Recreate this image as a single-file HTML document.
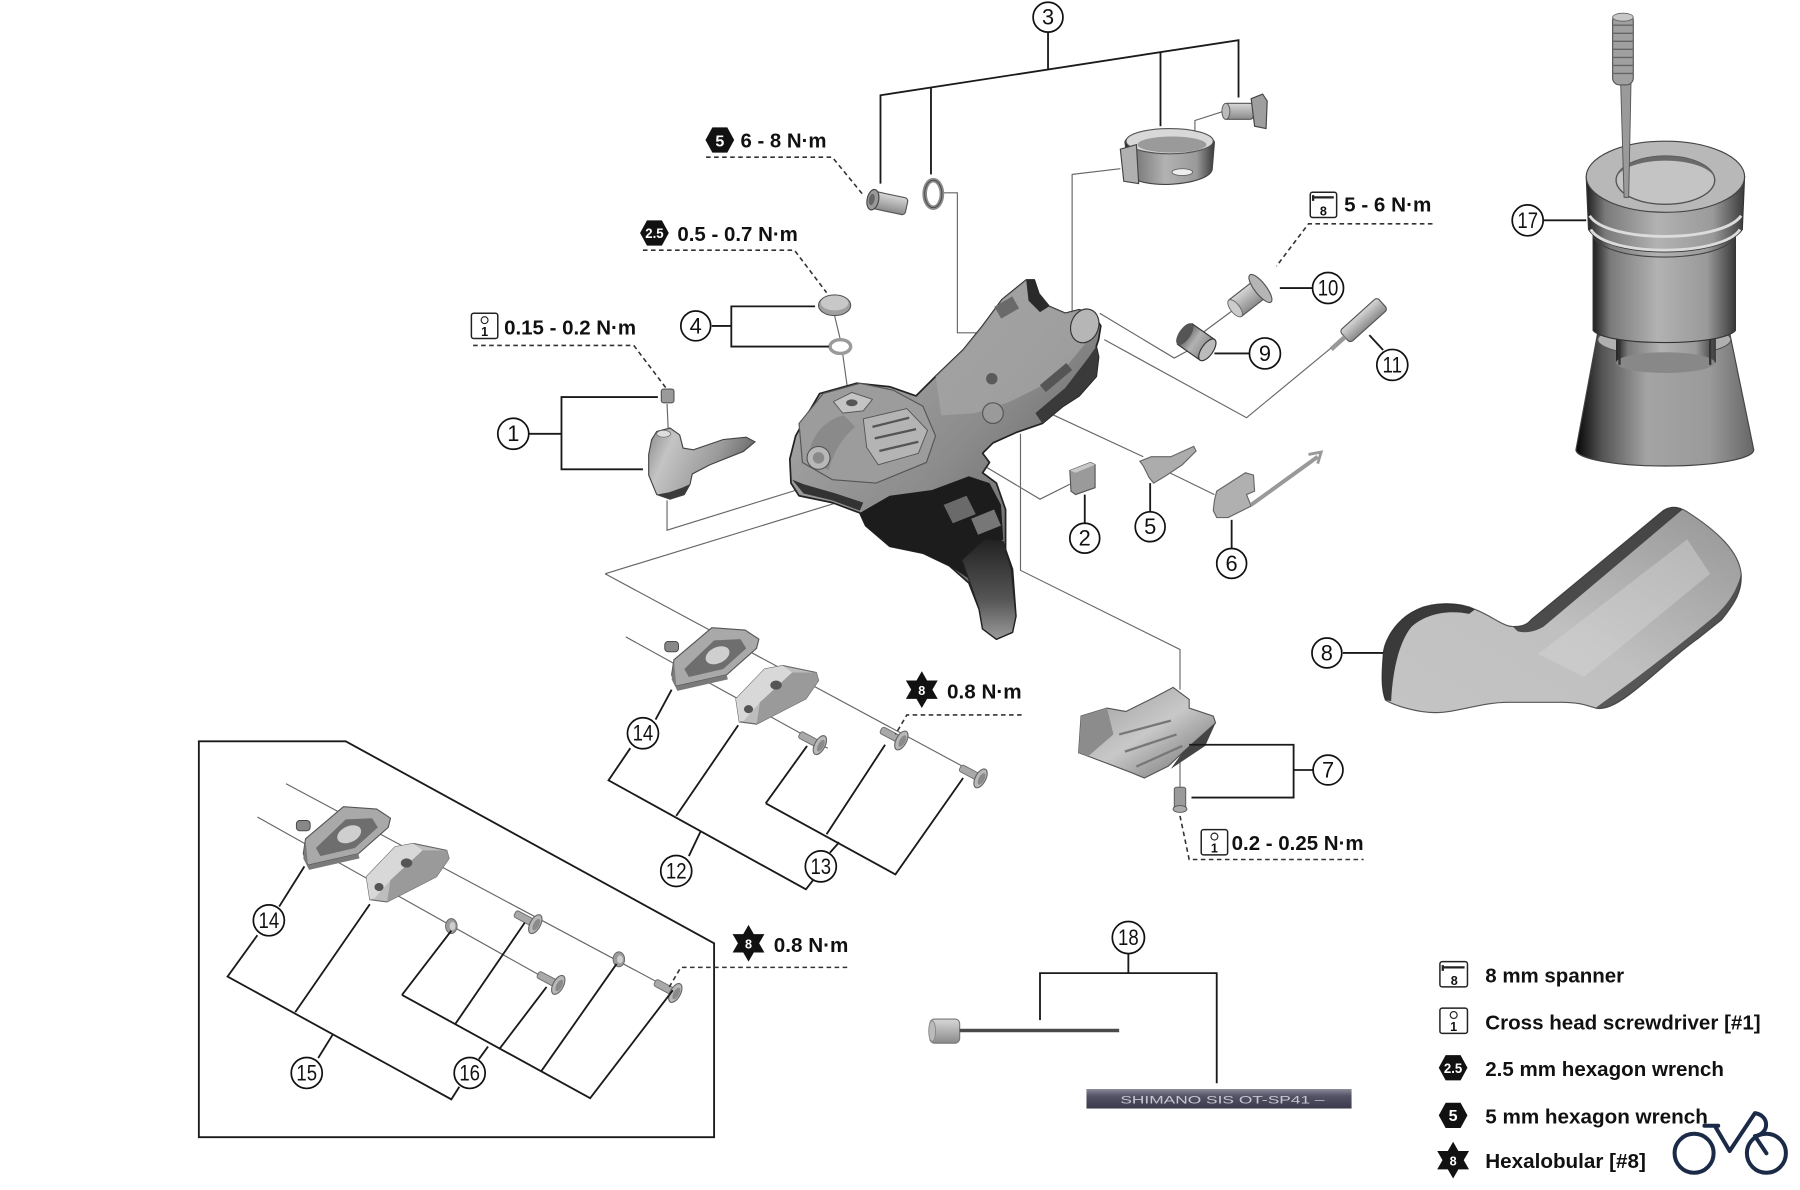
<!DOCTYPE html>
<html><head><meta charset="utf-8"><style>
html,body{margin:0;padding:0;background:#fff;width:1800px;height:1190px;overflow:hidden}
svg{display:block}
text{font-family:"Liberation Sans",Arial,sans-serif}
.co{fill:#fff;stroke:#111;stroke-width:1.5}
.cn{font-size:19px;text-anchor:middle;fill:#111}
.br{fill:none;stroke:#1a1a1a;stroke-width:1.6}
.ld{fill:none;stroke:#666;stroke-width:1}
.ds{fill:none;stroke:#333;stroke-width:1.4;stroke-dasharray:4 3}
.tq{font-size:18px;font-weight:bold;fill:#111}
.lg{font-size:18px;font-weight:bold;fill:#111}
</style></head><body>
<svg width="1800" height="1190" viewBox="0 0 1568 1037" xmlns="http://www.w3.org/2000/svg">
<defs>
<linearGradient id="gCyl" x1="0" y1="0" x2="1" y2="0">
<stop offset="0" stop-color="#1e1e1e"/><stop offset="0.12" stop-color="#7a7a7a"/><stop offset="0.45" stop-color="#b2b2b2"/><stop offset="0.8" stop-color="#9a9a9a"/><stop offset="1" stop-color="#3a3a3a"/>
</linearGradient>
<linearGradient id="gCone" x1="0" y1="0" x2="1" y2="0">
<stop offset="0" stop-color="#050505"/><stop offset="0.15" stop-color="#555"/><stop offset="0.4" stop-color="#a4a4a4"/><stop offset="0.75" stop-color="#9a9a9a"/><stop offset="1" stop-color="#666"/>
</linearGradient>
<linearGradient id="gBody" x1="0" y1="0" x2="1" y2="1">
<stop offset="0" stop-color="#b0b0b0"/><stop offset="0.5" stop-color="#8c8c8c"/><stop offset="1" stop-color="#4a4a4a"/>
</linearGradient>
<linearGradient id="gLever" x1="0" y1="0" x2="0" y2="1">
<stop offset="0" stop-color="#222"/><stop offset="0.6" stop-color="#555"/><stop offset="1" stop-color="#9a9a9a"/>
</linearGradient>
<linearGradient id="gP1" x1="0" y1="0" x2="1" y2="0.3">
<stop offset="0" stop-color="#8a8a8a"/><stop offset="0.25" stop-color="#c4c4c4"/><stop offset="0.7" stop-color="#9a9a9a"/><stop offset="1" stop-color="#6a6a6a"/>
</linearGradient>
<linearGradient id="g8" x1="0" y1="1" x2="1" y2="0">
<stop offset="0" stop-color="#c4c4c4"/><stop offset="0.45" stop-color="#c0c0c0"/><stop offset="0.7" stop-color="#adadad"/><stop offset="1" stop-color="#959595"/>
</linearGradient>
<linearGradient id="g7" x1="0" y1="0" x2="1" y2="1">
<stop offset="0" stop-color="#9a9a9a"/><stop offset="0.5" stop-color="#c8c8c8"/><stop offset="1" stop-color="#6a6a6a"/>
</linearGradient>
<linearGradient id="gHouse" x1="0" y1="0" x2="0" y2="1">
<stop offset="0" stop-color="#8a8a9a"/><stop offset="0.35" stop-color="#545466"/><stop offset="1" stop-color="#3a3a4c"/>
</linearGradient>
<linearGradient id="gMet" x1="0" y1="0" x2="0" y2="1">
<stop offset="0" stop-color="#d8d8d8"/><stop offset="1" stop-color="#8a8a8a"/>
</linearGradient>
<path id="star" d="M0,-16 L4.62,-8 L13.86,-8 L9.24,0 L13.86,8 L4.62,8 L0,16 L-4.62,8 L-13.86,8 L-9.24,0 L-13.86,-8 L-4.62,-8 Z" fill="#111"/>
<path id="hex" d="M-12.5,0 L-6.5,-11 L6.5,-11 L12.5,0 L6.5,11 L-6.5,11 Z" fill="#111"/>
<g id="bolt">
<rect x="-13" y="-3.2" width="19" height="6.4" rx="2" fill="#a9a9a9" stroke="#6a6a6a" stroke-width="0.8"/>
<ellipse cx="7" cy="0" rx="4.5" ry="9" fill="#b8b8b8" stroke="#666" stroke-width="1"/>
<ellipse cx="8" cy="0" rx="2.5" ry="5.5" fill="#8a8a8a"/>
</g>
<g id="washer">
<ellipse cx="0" cy="0" rx="5" ry="6.5" fill="#9c9c9c" stroke="#666" stroke-width="0.8"/>
<ellipse cx="1" cy="0" rx="2.5" ry="3.5" fill="#cfcfcf"/>
</g>
<g id="p14">
<path d="M587,575 L620,547 L649,549 L661,557 L659,565 L633,588 L589,598 L585,588 Z" fill="#a9a9a9" stroke="#555" stroke-width="1"/>
<path d="M596,583 L622,558 L645,557 L650,565 L630,583 L600,590 Z" fill="#6e6e6e"/>
<ellipse cx="625" cy="571" rx="11" ry="7" fill="#cfcfcf" transform="rotate(-25 625 571)"/>
<rect x="579" y="559" width="12" height="9" rx="3" fill="#888" stroke="#444" stroke-width="0.8"/>
<path d="M587,575 L589,598 L633,588 L634,592 L590,602 L585,592 Z" fill="#7a7a7a"/>
</g>
<g id="p15">
<path d="M641,609 L666,583 L682,580 L711,586 L713,593 L702,609 L659,631 L644,629 Z" fill="#bdbdbd" stroke="#666" stroke-width="1"/>
<path d="M641,609 L666,583 L682,580 L690,586 L662,612 L648,628 L644,629 Z" fill="#d8d8d8"/>
<path d="M662,612 L690,586 L711,586 L713,593 L702,609 L659,631 Z" fill="#9a9a9a"/>
<ellipse cx="676" cy="597" rx="5" ry="4" fill="#555"/>
<ellipse cx="652" cy="618" rx="4" ry="3.5" fill="#555"/>
</g>
</defs>

<rect width="1568" height="1037" fill="#fff"/>

<!-- ===== leader lines (thin) ===== -->
<g class="ld">
<path d="M581,352 L582,374"/>
<path d="M581,436 L581,462 L694,427"/>
<path d="M527,500 L853,400"/>
<path d="M527,500 L852,675"/>
<path d="M545,555 L721,652"/>
<path d="M727,275 L732,296 M734,308 L740,351"/>
<path d="M822,168 L834,168 L834,290 L862,290"/>
<path d="M976,147 L934,152 L934,272 L928,276"/>
<path d="M1066,97 L1041,105 L1041,132"/>
<path d="M958,273 L1023,312 L1036,305 M1049,289 L1080,266"/>
<path d="M962,296 L1086,364 L1160,303"/>
<path d="M899,353 L996,398 M1019,412 L1058,431"/>
<path d="M859,407 L906,435 L932,422"/>
<path d="M889,378 L889,497 L1028,566 L1028,601 M1028,655 L1028,688"/>
<path d="M769,351 L853,392"/>
<path d="M249,683 L586,863"/>
<path d="M224,712 L481,856"/>
</g>

<!-- ===== Part 3 group ===== -->
<g>
<g transform="rotate(12 772 177)">
<rect x="760" y="169" width="30" height="15" rx="3" fill="url(#gMet)" stroke="#555" stroke-width="1"/>
<ellipse cx="760" cy="176.5" rx="5" ry="9" fill="#9a9a9a" stroke="#444" stroke-width="1"/>
<ellipse cx="759" cy="176.5" rx="2.5" ry="5" fill="#666"/>
</g>
<ellipse cx="813" cy="169" rx="7.5" ry="12" fill="none" stroke="#8a8a8a" stroke-width="4"/>
<ellipse cx="813" cy="169" rx="7.5" ry="12" fill="none" stroke="#444" stroke-width="0.8"/>
<path d="M980,124 C980,112 1056,112 1058,124 L1056,148 C1052,162 992,166 984,152 Z" fill="url(#gCyl)" stroke="#444" stroke-width="1"/>
<ellipse cx="1019" cy="123" rx="38" ry="11" fill="#d8d8d8" stroke="#555" stroke-width="1"/>
<ellipse cx="1021" cy="126" rx="30" ry="7" fill="#9a9a9a"/>
<path d="M976,130 L990,126 L992,160 L979,158 Z" fill="#b0b0b0" stroke="#444" stroke-width="1"/>
<ellipse cx="1030" cy="150" rx="9" ry="3" fill="#eee" stroke="#666" stroke-width="0.8"/>
<rect x="1066" y="90" width="26" height="14" rx="3" fill="url(#gMet)" stroke="#555" stroke-width="1"/>
<path d="M1090,86 L1100,82 L1104,88 L1103,112 L1093,110 Z" fill="#9e9e9e" stroke="#444" stroke-width="1"/>
<ellipse cx="1068" cy="97" rx="3.5" ry="7" fill="#bbb" stroke="#555" stroke-width="0.8"/>
</g>

<!-- ===== main body ===== -->
<g stroke-linejoin="round">
<path d="M689,421 L688,400 L693,380 L704,360 L714,343 L746,334 L775,337 L798,345 L815,328 L839,305 L856,284 L873,261 L894,244 L901,244 L905,256 L914,267 L928,273 L940,270 L952,273 L959,284 L957,296 L955,302 L957,311 L955,328 L940,345 L926,354 L908,369 L885,377 L865,386 L856,395 L862,403 L856,412 L868,421 L876,444 L876,479 L882,496 L885,537 L882,551 L868,557 L856,548 L853,531 L844,508 L827,493 L804,482 L775,476 L754,458 L749,447 L725,438 L696,432 Z" fill="url(#gBody)" stroke="#222" stroke-width="1.5"/>
<!-- head top face -->
<path d="M696,369 L717,343 L749,334 L778,340 L804,354 L815,380 L807,403 L763,421 L725,418 L699,403 Z" fill="#9c9c9c" stroke="#555" stroke-width="1"/>
<!-- raised square boss -->
<path d="M726,350 L742,342 L760,348 L752,358 L734,360 Z" fill="#c4c4c4" stroke="#555" stroke-width="0.8"/>
<ellipse cx="742" cy="351" rx="5" ry="3" fill="#555"/>
<!-- slot block -->
<path d="M752,365 L790,356 L808,375 L800,395 L765,405 L755,390 Z" fill="#b4b4b4" stroke="#555" stroke-width="0.8"/>
<path d="M760,372 L792,364 M762,382 L798,374 M766,393 L800,385" stroke="#555" stroke-width="2"/>
<path d="M705,398 C705,380 720,365 735,362 L745,372 C735,380 725,395 722,410 Z" fill="#8a8a8a"/>
<circle cx="713" cy="399" r="10" fill="#b8b8b8" stroke="#555" stroke-width="1"/>
<circle cx="713" cy="399" r="5" fill="#8a8a8a"/>
<!-- tube lighter -->
<path d="M815,328 L839,305 L856,284 L873,261 L894,244 L905,256 L914,267 L928,273 L940,270 L952,273 L945,300 L920,330 L880,350 L850,360 L820,362 Z" fill="#a6a6a6" opacity="0.75"/>
<path d="M894,244 L901,244 L905,256 L914,267 L906,272 L896,262 Z" fill="#2a2a2a"/>
<ellipse cx="945" cy="284" rx="12" ry="15" fill="#b6b6b6" stroke="#333" stroke-width="1" transform="rotate(20 945 284)"/>
<path d="M955,302 L957,311 L955,328 L940,345 L926,354 L908,369 L902,360 L928,338 L948,312 Z" fill="#3a3a3a"/>
<rect x="868" y="262" width="18" height="12" fill="#6a6a6a" transform="rotate(-30 877 268)"/>
<circle cx="864" cy="330" r="5" fill="#5a5a5a"/>
<circle cx="865" cy="360" r="9" fill="#9a9a9a" stroke="#555" stroke-width="1"/>
<rect x="905" y="325" width="30" height="8" fill="#555" transform="rotate(-40 920 329)"/>
<!-- dark lower body -->
<path d="M749,447 L775,432 L812,427 L844,415 L862,421 L872,440 L874,470 L860,480 L845,505 L827,493 L804,482 L775,476 L754,458 Z" fill="#1c1c1c"/>
<path d="M822,440 L842,432 L850,448 L830,456 Z" fill="#6a6a6a"/>
<!-- lever blade -->
<path d="M838,488 L858,470 L874,472 L881,496 L885,537 L882,551 L868,557 L856,548 L853,531 L845,508 Z" fill="url(#gLever)" stroke="#222" stroke-width="1"/>
<path d="M846,452 L866,444 L872,458 L852,466 Z" fill="#777"/>
<path d="M690,418 L700,430 L725,436 L749,445 L752,438 L728,430 L700,422 Z" fill="#333"/>
</g>

<!-- ===== Part 1 ===== -->
<path d="M567.6,383 L572,376 L583.6,373 L592,379 L595,390.5 L604,392 L630,383 L650,381 L657.6,385 L647.5,393.4 L618.4,405 L603,413 L601,422 L596,431 L583.6,435 L572,431 L565,414 L565,396 Z" fill="url(#gP1)" stroke="#444" stroke-width="1"/>
<path d="M572,431 L583.6,435 L596,431 L601,422 L594,425 L583,429 Z" fill="#3a3a3a"/>
<ellipse cx="578" cy="378" rx="6" ry="3" fill="#ddd" stroke="#666" stroke-width="0.6"/>
<rect x="576" y="339" width="11" height="12" rx="2" fill="#9a9a9a" stroke="#555" stroke-width="1"/>

<!-- ===== Part 4 ===== -->
<ellipse cx="727" cy="266" rx="14" ry="9" fill="#a0a0a0" stroke="#555" stroke-width="1"/>
<ellipse cx="727" cy="264" rx="12" ry="6.5" fill="#c8c8c8"/>
<ellipse cx="732" cy="302" rx="9" ry="6" fill="none" stroke="#9a9a9a" stroke-width="3"/>

<!-- ===== Parts 2,5,6 ===== -->
<path d="M932,410 L950,403 L954,405 L954,425 L937,431 L933,428 Z" fill="#9a9a9a" stroke="#555" stroke-width="1"/>
<path d="M932,410 L950,403 L954,405 L937,412 Z" fill="#c8c8c8"/>
<path d="M993,402 L1003,398 L1020,398 L1040,389 L1042,393 L1030,405 L1015,415 L1005,421 L1001,416 L996,406 Z" fill="#acacac" stroke="#666" stroke-width="1"/>
<path d="M1058,436 L1060,428 L1085,412 L1092,414 L1093,428 L1086,431 L1090,441 L1070,451 L1060,451 L1057,445 Z" fill="#b0b0b0" stroke="#666" stroke-width="1"/>
<path d="M1090,440 L1148,398" stroke="#999" stroke-width="3.5"/>
<path d="M1140,396 L1151,394 L1148,404" fill="none" stroke="#999" stroke-width="2.5"/>

<!-- ===== Parts 9, 10, 11 ===== -->
<g transform="rotate(35 1042 298)">
<rect x="1030" y="287" width="24" height="22" fill="url(#gCyl)" stroke="#333" stroke-width="1"/>
<ellipse cx="1030" cy="298" rx="5" ry="11" fill="#555"/>
<ellipse cx="1054" cy="298" rx="5" ry="11" fill="#bbb" stroke="#333" stroke-width="1"/>
</g>
<g transform="rotate(-38 1088 258)">
<rect x="1072" y="250" width="26" height="18" fill="url(#gMet)" stroke="#555" stroke-width="1"/>
<ellipse cx="1100" cy="259" rx="5" ry="15" fill="#b5b5b5" stroke="#555" stroke-width="1"/>
<ellipse cx="1072" cy="259" rx="4" ry="9" fill="#ccc" stroke="#666" stroke-width="0.8"/>
</g>
<g transform="rotate(-42 1188 279)">
<rect x="1166" y="272" width="44" height="14" rx="3" fill="url(#gMet)" stroke="#555" stroke-width="1"/>
<rect x="1150" y="277" width="16" height="4" fill="#999"/>
</g>

<!-- ===== Part 7 ===== -->
<path d="M941.8,624 L964.4,617 L980.8,620 L1005,608 L1022,599 L1036,609.5 L1036,617 L1057,624 L1059,630 L1030,656 L1018,667.5 L997,678 L985,673 L948,659 L939.7,656 Z" fill="url(#g7)" stroke="#555" stroke-width="1"/>
<path d="M941.8,624 L964.4,617 L970,640 L948,659 L939.7,656 Z" fill="#8c8c8c"/>
<path d="M975,640 L1020,628 M980,655 L1025,640 M990,668 L1030,650" stroke="#777" stroke-width="2"/>
<path d="M1030,656 L1059,630 L1050,650 L1020,670 Z" fill="#444"/>
<rect x="1023" y="686" width="10" height="19" rx="2" fill="#9a9a9a" stroke="#555" stroke-width="0.8"/>
<ellipse cx="1028" cy="705" rx="6" ry="3" fill="#aaa" stroke="#555" stroke-width="0.8"/>

<!-- ===== Part 8 ===== -->
<path d="M1205,572 C1205,560 1215,540 1235,531 C1248,525 1270,524 1285,531 C1300,537 1310,546 1318,546 C1325,546 1330,545 1334,540 L1449,445 C1455,441 1462,441 1470,446 C1495,462 1515,480 1517,500 C1518,515 1512,525 1500,540 L1480,556 C1460,570 1440,590 1420,605 C1408,614 1398,619 1390,617 C1380,614 1375,612 1360,612 L1314,612 C1290,612 1270,621 1250,621 C1235,621 1215,615 1207,610 C1203,600 1204,585 1205,572 Z" fill="url(#g8)" stroke="#555" stroke-width="1"/>
<path d="M1318,546 C1325,546 1330,545 1334,540 L1449,445 C1455,441 1462,441 1466,444 L1345,546 C1337,551 1328,552 1322,550 Z" fill="#2e2e2e" opacity="0.8"/>
<path d="M1517,500 C1518,515 1512,525 1500,540 L1480,556 C1460,570 1440,590 1420,605 C1408,614 1398,619 1390,617 L1412,601 C1440,580 1470,557 1495,536 C1508,524 1514,512 1517,500 Z" fill="#333" opacity="0.75"/>
<path d="M1207,610 C1203,600 1204,585 1205,572 C1205,560 1215,540 1235,531 C1248,525 1270,524 1285,531 L1280,535 C1262,531 1242,535 1230,546 C1218,560 1213,588 1212,611 Z" fill="#222" opacity="0.85"/>
<path d="M1340,570 L1470,470 L1490,500 L1380,590 Z" fill="#d4d4d4" opacity="0.45"/>

<!-- ===== Part 17 tool ===== -->
<g>
<path d="M1392,290 L1507,290 L1528,392 A77,14 0 0 1 1373,392 Z" fill="url(#gCone)" stroke="#444" stroke-width="1"/>
<ellipse cx="1450" cy="296" rx="58" ry="14" fill="#b0b0b0" stroke="#555" stroke-width="1"/>
<rect x="1408" y="280" width="87" height="36" fill="url(#gCyl)"/>
<ellipse cx="1451" cy="316" rx="43" ry="9" fill="#888"/>
<path d="M1411,283 L1411,318 M1490,283 L1490,318" stroke="#333" stroke-width="2"/>
<path d="M1388,196 L1512,196 L1512,288 C1500,302 1400,302 1388,288 Z" fill="url(#gCyl)" stroke="#333" stroke-width="1"/>
<path d="M1382,154 L1520,154 L1518,200 C1500,226 1400,226 1384,200 Z" fill="url(#gCyl)" stroke="#333" stroke-width="1"/>
<path d="M1385,188 C1400,212 1500,212 1517,188" fill="none" stroke="#dcdcdc" stroke-width="2.5"/>
<path d="M1386,200 C1400,224 1500,224 1516,200" fill="none" stroke="#dcdcdc" stroke-width="2.5"/>
<path d="M1388,206 C1400,230 1500,230 1512,206" fill="none" stroke="#444" stroke-width="1"/>
<ellipse cx="1451" cy="154" rx="69" ry="31" fill="#b8b8b8" stroke="#444" stroke-width="1"/>
<ellipse cx="1451" cy="157" rx="43" ry="21" fill="#c4c4c4" stroke="#555" stroke-width="1.2"/>
<path d="M1408,157 A43,21 0 0 1 1494,157 A43,17 0 0 0 1408,157 Z" fill="#6a6a6a"/>
<path d="M1412,73 L1421,73 L1419,172 L1415,172 Z" fill="#9a9a9a" stroke="#555" stroke-width="0.8"/>
<rect x="1405" y="12" width="18" height="62" rx="6" fill="#a0a0a0" stroke="#555" stroke-width="1"/>
<path d="M1405,22 H1423 M1405,29 H1423 M1405,36 H1423 M1405,43 H1423 M1405,50 H1423 M1405,57 H1423 M1405,64 H1423" stroke="#666" stroke-width="1.2"/>
<ellipse cx="1414" cy="15" rx="9" ry="3.5" fill="#c8c8c8" stroke="#666" stroke-width="0.8"/>
</g>

<!-- ===== upper group parts 12/13/14 ===== -->
<use href="#p14"/>
<use href="#p15"/>
<use href="#bolt" transform="translate(708,646) rotate(28)"/>
<use href="#bolt" transform="translate(779,642) rotate(28)"/>
<use href="#bolt" transform="translate(848,675) rotate(28)"/>

<!-- ===== box group ===== -->
<use href="#p14" transform="translate(-321,156)"/>
<use href="#p15" transform="translate(-322,155)"/>
<use href="#washer" transform="translate(393,807)"/>
<use href="#bolt" transform="translate(460,802) rotate(28)"/>
<use href="#washer" transform="translate(539,836)"/>
<use href="#bolt" transform="translate(480,855) rotate(28)"/>
<use href="#bolt" transform="translate(582,862) rotate(28)"/>

<!-- ===== bracket lines ===== -->
<g class="br">
<path d="M913,28 L913,60"/>
<path d="M767,160 L767,83 L1079,35 L1079,85"/>
<path d="M811,76 L811,152"/>
<path d="M1011,45 L1011,110"/>
<path d="M620,284 L637,284 M710,267 L637,267 L637,302 L722,302"/>
<path d="M461,378 L489,378 M573,346 L489,346 L489,409 L560,409"/>
<path d="M1115,251 L1144,251"/>
<path d="M1058,308 L1089,308"/>
<path d="M1193,292 L1205,305"/>
<path d="M1345,192 L1382,192"/>
<path d="M1170,569 L1205,569"/>
<path d="M945,431 L945,456"/>
<path d="M1002,421 L1002,446"/>
<path d="M1073,453 L1073,478"/>
<path d="M1036,649 L1127,649 L1127,695 L1038,695 M1127,671 L1144,671"/>
<path d="M983,831 L983,848 M906,889 L906,848 L1060,848 L1060,944"/>
<path d="M585,601 L571,627 M549,652 L530,680 L702,775 L709,766 M589,711 L643,632 M610,725 L600,746"/>
<path d="M667,700 L703,650 M667,700 L780,762 L839,678 M720,727 L771,649 M731,734 L723,743"/>
<path d="M265,755 L243,790 M224,815 L198,851 L393,958 L400,947 M257,882 L322,788 M290,901 L277,922"/>
<path d="M350,867 L393,811 M350,867 L514,957 L586,863 M396,893 L457,804 M435,914 L476,860 M471,934 L537,840 M425,912 L417,923"/>
<path d="M173,646 L301,646 L622,822 L622,991 L173,991 Z"/>
</g>

<!-- ===== dashed torque leaders ===== -->
<g class="ds">
<path d="M615,137 L725,137 L752,170"/>
<path d="M560,218 L692,218 L720,255"/>
<path d="M412,301 L552,301 L580,338"/>
<path d="M1248,195 L1140,195 L1112,232"/>
<path d="M890,623 L790,623 L780,640"/>
<path d="M738,843 L593,843 L583,860"/>
<path d="M1028,711 L1036,749 L1188,749"/>
</g>

<!-- ===== torque labels ===== -->
<use href="#hex" x="627" y="122"/>
<text x="627" y="127.5" font-size="14" font-weight="bold" fill="#fff" text-anchor="middle">5</text>
<text class="tq" x="645" y="128.5" textLength="75" lengthAdjust="spacingAndGlyphs">6 - 8 N·m</text>

<use href="#hex" x="570" y="203"/>
<text x="570" y="207.5" font-size="12" font-weight="bold" fill="#fff" text-anchor="middle" textLength="16" lengthAdjust="spacingAndGlyphs">2.5</text>
<text class="tq" x="590" y="210" textLength="105" lengthAdjust="spacingAndGlyphs">0.5 - 0.7 N·m</text>

<rect x="410.5" y="273" width="23" height="22" rx="2" fill="#fff" stroke="#222" stroke-width="1.3"/>
<circle cx="422" cy="279" r="3" fill="none" stroke="#222" stroke-width="1"/>
<text x="422" y="293" font-size="11" font-weight="bold" fill="#111" text-anchor="middle">1</text>
<text class="tq" x="439" y="291.5" textLength="115" lengthAdjust="spacingAndGlyphs">0.15 - 0.2 N·m</text>

<rect x="1141.5" y="167.5" width="23" height="22" rx="2" fill="#fff" stroke="#222" stroke-width="1.3"/>
<path d="M1144,172 H1162 M1144,170 V175" stroke="#222" stroke-width="2"/>
<text x="1153" y="188" font-size="11" font-weight="bold" fill="#111" text-anchor="middle">8</text>
<text class="tq" x="1171" y="184.5" textLength="76" lengthAdjust="spacingAndGlyphs">5 - 6 N·m</text>

<use href="#star" x="803" y="601"/>
<text x="803" y="605.5" font-size="11" font-weight="bold" fill="#fff" text-anchor="middle">8</text>
<text class="tq" x="825" y="608.5" textLength="65" lengthAdjust="spacingAndGlyphs">0.8 N·m</text>

<use href="#star" x="652" y="822"/>
<text x="652" y="826.5" font-size="11" font-weight="bold" fill="#fff" text-anchor="middle">8</text>
<text class="tq" x="674" y="829.5" textLength="65" lengthAdjust="spacingAndGlyphs">0.8 N·m</text>

<rect x="1046.5" y="723" width="23" height="22" rx="2" fill="#fff" stroke="#222" stroke-width="1.3"/>
<circle cx="1058" cy="729" r="3" fill="none" stroke="#222" stroke-width="1"/>
<text x="1058" y="743" font-size="11" font-weight="bold" fill="#111" text-anchor="middle">1</text>
<text class="tq" x="1073" y="740.5" textLength="115" lengthAdjust="spacingAndGlyphs">0.2 - 0.25 N·m</text>

<!-- ===== Part 18 ===== -->
<rect x="810" y="888" width="26" height="21" rx="4" fill="url(#gMet)" stroke="#777" stroke-width="1"/>
<ellipse cx="812" cy="898.5" rx="3" ry="9" fill="#bbb" stroke="#888" stroke-width="0.8"/>
<path d="M836,898 L975,898" stroke="#4a4a4a" stroke-width="3"/>
<rect x="946.5" y="949" width="231" height="17" fill="url(#gHouse)"/>
<text x="976" y="961.5" font-size="10" fill="#c8c8d4" textLength="178" lengthAdjust="spacingAndGlyphs">SHIMANO SIS  OT-SP41 –</text>

<!-- ===== callout circles ===== -->
<g>
<circle class="co" cx="913" cy="15" r="13"/><text class="cn" x="913" y="21.5">3</text>
<circle class="co" cx="606" cy="284" r="13"/><text class="cn" x="606" y="290.5">4</text>
<circle class="co" cx="447" cy="378" r="13.5"/><text class="cn" x="447" y="384.5">1</text>
<circle class="co" cx="1157" cy="251" r="13.5"/><text class="cn" x="1157" y="257.5" textLength="18" lengthAdjust="spacingAndGlyphs">10</text>
<circle class="co" cx="1102" cy="308" r="13.5"/><text class="cn" x="1102" y="314.5">9</text>
<circle class="co" cx="1213" cy="318" r="13.5"/><text class="cn" x="1213" y="324.5" textLength="17" lengthAdjust="spacingAndGlyphs">11</text>
<circle class="co" cx="1331" cy="192" r="13.5"/><text class="cn" x="1331" y="198.5" textLength="18" lengthAdjust="spacingAndGlyphs">17</text>
<circle class="co" cx="945" cy="469" r="13"/><text class="cn" x="945" y="475.5">2</text>
<circle class="co" cx="1002" cy="459" r="13"/><text class="cn" x="1002" y="465.5">5</text>
<circle class="co" cx="1073" cy="491" r="13"/><text class="cn" x="1073" y="497.5">6</text>
<circle class="co" cx="1156" cy="569" r="13"/><text class="cn" x="1156" y="575.5">8</text>
<circle class="co" cx="1157" cy="671" r="13"/><text class="cn" x="1157" y="677.5">7</text>
<circle class="co" cx="560" cy="639" r="13.5"/><text class="cn" x="560" y="645.5" textLength="18" lengthAdjust="spacingAndGlyphs">14</text>
<circle class="co" cx="589" cy="759" r="13.5"/><text class="cn" x="589" y="765.5" textLength="18" lengthAdjust="spacingAndGlyphs">12</text>
<circle class="co" cx="715" cy="755" r="13.5"/><text class="cn" x="715" y="761.5" textLength="18" lengthAdjust="spacingAndGlyphs">13</text>
<circle class="co" cx="234" cy="802" r="13.5"/><text class="cn" x="234" y="808.5" textLength="18" lengthAdjust="spacingAndGlyphs">14</text>
<circle class="co" cx="267" cy="935" r="13.5"/><text class="cn" x="267" y="941.5" textLength="18" lengthAdjust="spacingAndGlyphs">15</text>
<circle class="co" cx="409" cy="935" r="13.5"/><text class="cn" x="409" y="941.5" textLength="18" lengthAdjust="spacingAndGlyphs">16</text>
<circle class="co" cx="983" cy="817" r="14"/><text class="cn" x="983" y="823.5" textLength="18" lengthAdjust="spacingAndGlyphs">18</text>
</g>

<!-- ===== legend ===== -->
<rect x="1254.5" y="838" width="24" height="22" rx="2" fill="#fff" stroke="#222" stroke-width="1.3"/>
<path d="M1257,843 H1276 M1257,841 V846" stroke="#222" stroke-width="2"/>
<text x="1267" y="858.5" font-size="11" font-weight="bold" fill="#111" text-anchor="middle">8</text>
<text class="lg" x="1294" y="856" textLength="121" lengthAdjust="spacingAndGlyphs">8 mm spanner</text>

<rect x="1254.5" y="878.5" width="24" height="22" rx="2" fill="#fff" stroke="#222" stroke-width="1.3"/>
<circle cx="1266.5" cy="884.5" r="3" fill="none" stroke="#222" stroke-width="1"/>
<text x="1266.5" y="898.5" font-size="11" font-weight="bold" fill="#111" text-anchor="middle">1</text>
<text class="lg" x="1294" y="897" textLength="240" lengthAdjust="spacingAndGlyphs">Cross head screwdriver [#1]</text>

<use href="#hex" x="1266" y="930.5"/>
<text x="1266" y="935" font-size="12" font-weight="bold" fill="#fff" text-anchor="middle" textLength="16" lengthAdjust="spacingAndGlyphs">2.5</text>
<text class="lg" x="1294" y="937.5" textLength="208" lengthAdjust="spacingAndGlyphs">2.5 mm hexagon wrench</text>

<use href="#hex" x="1266" y="972"/>
<text x="1266" y="977" font-size="14" font-weight="bold" fill="#fff" text-anchor="middle">5</text>
<text class="lg" x="1294" y="979" textLength="194" lengthAdjust="spacingAndGlyphs">5 mm hexagon wrench</text>

<use href="#star" x="1266" y="1011"/>
<text x="1266" y="1015.5" font-size="11" font-weight="bold" fill="#fff" text-anchor="middle">8</text>
<text class="lg" x="1294" y="1018" textLength="140" lengthAdjust="spacingAndGlyphs">Hexalobular [#8]</text>

<!-- ===== bike logo ===== -->
<g fill="none" stroke="#1b2a47" stroke-width="3.5" stroke-linejoin="round" stroke-linecap="round">
<circle cx="1476" cy="1005" r="17"/>
<circle cx="1539" cy="1005" r="17"/>
<path d="M1485,981 L1497,981 M1494,981 L1507,1003 L1529,970 C1542,972 1542,988 1529,990 L1539,1005"/>
</g>
</svg>
</body></html>
